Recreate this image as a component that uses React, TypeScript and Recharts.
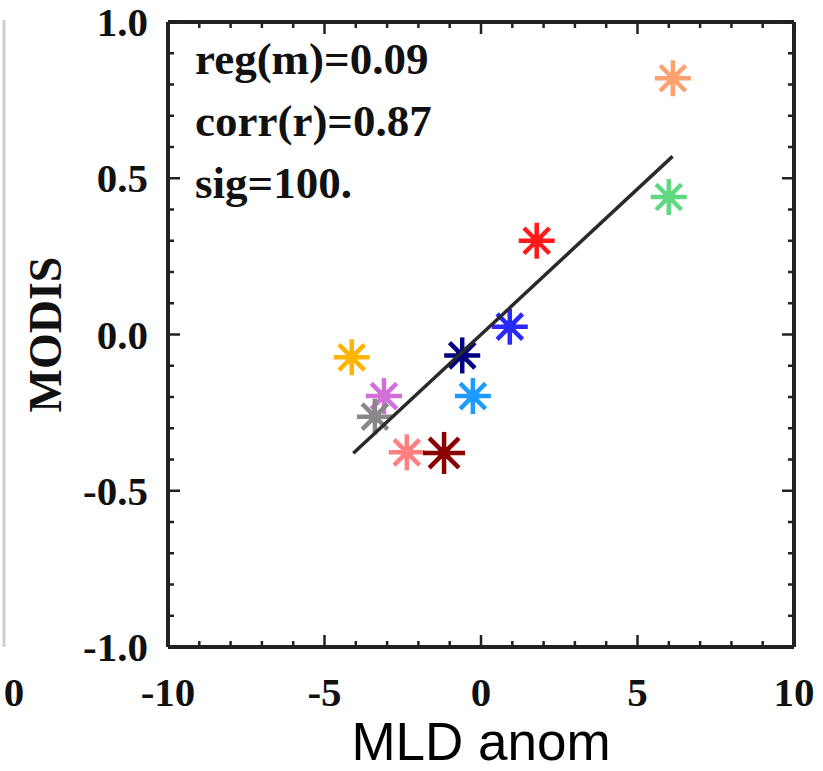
import React from 'react';
import { ScatterChart, Scatter, XAxis, YAxis, Label } from 'recharts';

// MLD anomaly vs MODIS anomaly, one asterisk per case
const mldAnom = [6.13, 6.0, 1.78, 0.92, -0.6, -0.26, -4.13, -3.1, -3.39, -2.37, -1.18];
const modisAnom = [0.82, 0.44, 0.3, 0.025, -0.067, -0.197, -0.073, -0.197, -0.263, -0.377, -0.379];
const markerColors = [
  '#FFA070', '#60D880', '#FF1A1A', '#2828FF', '#000080', '#1E9BFF',
  '#FFB400', '#D070D8', '#888888', '#FF8080', '#8B0000',
];

// least-squares fit end points
const fitLine = [
  { x: -4.08, y: -0.38 },
  { x: 6.12, y: 0.57 },
];

const statLines = ['reg(m)=0.09', 'corr(r)=0.87', 'sig=100.'];

const xTicks = [-10, -9, -8, -7, -6, -5, -4, -3, -2, -1, 0, 1, 2, 3, 4, 5, 6, 7, 8, 9, 10];
const yTicks = [
  -1.0, -0.9, -0.8, -0.7, -0.6, -0.5, -0.4, -0.3, -0.2, -0.1, 0.0,
  0.1, 0.2, 0.3, 0.4, 0.5, 0.6, 0.7, 0.8, 0.9, 1.0,
];

const points = mldAnom.map((x, i) => ({ x, y: modisAnom[i], color: markerColors[i] }));

const SERIF = '"Liberation Serif", "Times New Roman", serif';
const INK = '#222';

const isMajorX = (v: number) => v % 5 === 0;
const isMajorY = (v: number) => Math.abs(Math.round(v * 2) - v * 2) < 1e-6;

const BottomTick = (p: any) => {
  const v = p.payload.value;
  const axisY = p.y - 45;
  const major = isMajorX(v);
  return (
    <g>
      <line x1={p.x} x2={p.x} y1={axisY} y2={axisY - (major ? 12 : 6)} stroke={INK} strokeWidth={2.5} />
      {major && (
        <text x={p.x} y={p.y + 14} textAnchor="middle" fontFamily={SERIF} fontWeight="bold" fontSize={41} fill="#111">
          {v}
        </text>
      )}
    </g>
  );
};

const LeftTick = (p: any) => {
  const v = p.payload.value;
  const axisX = p.x + 20;
  const major = isMajorY(v);
  return (
    <g>
      <line x1={axisX} x2={axisX + (major ? 12 : 6)} y1={p.y} y2={p.y} stroke={INK} strokeWidth={2.5} />
      {major && (
        <text x={p.x} y={p.y + 14} textAnchor="end" fontFamily={SERIF} fontWeight="bold" fontSize={41} fill="#111">
          {v.toFixed(1)}
        </text>
      )}
    </g>
  );
};

const TopTick = (p: any) => {
  const major = isMajorX(p.payload.value);
  return <line x1={p.x} x2={p.x} y1={p.y} y2={p.y + (major ? 12 : 6)} stroke={INK} strokeWidth={2.5} />;
};

const RightTick = (p: any) => {
  const major = isMajorY(p.payload.value);
  return <line x1={p.x} x2={p.x - (major ? 12 : 6)} y1={p.y} y2={p.y} stroke={INK} strokeWidth={2.5} />;
};

const Asterisk = (p: any) => {
  const { cx, cy, payload } = p;
  if (cx == null || cy == null) return <g />;
  const r = payload.color === '#8B0000' ? 21 : 18;
  const d = r * Math.SQRT1_2;
  return (
    <g stroke={payload.color} strokeWidth={4.5} strokeLinecap="butt">
      <line x1={cx - r} x2={cx + r} y1={cy} y2={cy} />
      <line x1={cx} x2={cx} y1={cy - r} y2={cy + r} />
      <line x1={cx - d} x2={cx + d} y1={cy - d} y2={cy + d} />
      <line x1={cx - d} x2={cx + d} y1={cy + d} y2={cy - d} />
      <circle cx={cx} cy={cy} r={6.5} fill={payload.color} stroke="none" />
    </g>
  );
};

const Nothing = () => <g />;

export default function App() {
  return (
    <div style={{ position: 'absolute', left: 0, top: 0, width: 823, height: 771, background: '#fff' }}>
      <ScatterChart width={823} height={771} margin={{ top: 0, right: 0, bottom: 0, left: 0 }}>
        <XAxis
          xAxisId={0}
          dataKey="x"
          type="number"
          domain={[-10, 10]}
          ticks={xTicks}
          interval={0}
          allowDataOverflow
          height={124}
          tickSize={0}
          tickMargin={45}
          tick={BottomTick}
          axisLine={{ stroke: INK, strokeWidth: 4 }}
        >
          <Label
            value="MLD anom"
            position="insideBottom"
            offset={11}
            style={{ fontFamily: '"Liberation Sans", Arial, sans-serif', fontSize: 53, fill: '#000' }}
          />
        </XAxis>
        <XAxis
          xAxisId="top"
          orientation="top"
          dataKey="x"
          type="number"
          domain={[-10, 10]}
          ticks={xTicks}
          interval={0}
          allowDataOverflow
          height={22}
          tickSize={0}
          tickMargin={0}
          tick={TopTick}
          axisLine={{ stroke: INK, strokeWidth: 4 }}
        />
        <YAxis
          yAxisId={0}
          dataKey="y"
          type="number"
          domain={[-1, 1]}
          ticks={yTicks}
          interval={0}
          allowDataOverflow
          width={168}
          tickSize={0}
          tickMargin={20}
          tick={LeftTick}
          axisLine={{ stroke: INK, strokeWidth: 4 }}
        >
          <Label
            content={(lp: any) => {
              const vb = lp.viewBox || { y: 22, height: 625 };
              const cy = vb.y + vb.height / 2;
              return (
                <text
                  x={45}
                  y={cy}
                  transform={`rotate(-90, 45, ${cy})`}
                  textAnchor="middle"
                  dominantBaseline="central"
                  fontFamily={SERIF}
                  fontWeight="bold"
                  fontSize={46}
                  fill="#111"
                >
                  MODIS
                </text>
              );
            }}
          />
        </YAxis>
        <YAxis
          yAxisId="right"
          orientation="right"
          dataKey="y"
          type="number"
          domain={[-1, 1]}
          ticks={yTicks}
          interval={0}
          allowDataOverflow
          width={29}
          tickSize={0}
          tickMargin={0}
          tick={RightTick}
          axisLine={{ stroke: INK, strokeWidth: 4 }}
        />
        <Scatter xAxisId="top" yAxisId="right" data={points} shape={Nothing} isAnimationActive={false} />
        <Scatter xAxisId={0} yAxisId={0} data={points} shape={Asterisk} isAnimationActive={false} />
        <Scatter
          xAxisId={0}
          yAxisId={0}
          data={fitLine}
          line={{ stroke: '#2a2a2a', strokeWidth: 3.5 }}
          lineType="joint"
          shape={Nothing}
          isAnimationActive={false}
        />
      </ScatterChart>
      <svg
        width={823}
        height={771}
        style={{ position: 'absolute', left: 0, top: 0, pointerEvents: 'none' }}
      >
        {/* edge of the neighbouring panel, cut off in the source figure */}
        <line x1={4} x2={4} y1={20} y2={647} stroke="#d0d0d0" strokeWidth={3} />
        <text x={14} y={706} textAnchor="middle" fontFamily={SERIF} fontWeight="bold" fontSize={41} fill="#111">
          0
        </text>
        {statLines.map((s, i) => (
          <text
            key={s}
            x={195}
            y={74 + i * 62}
            fontFamily={SERIF}
            fontWeight="bold"
            fontSize={45}
            fill="#111"
          >
            {s}
          </text>
        ))}
      </svg>
    </div>
  );
}
